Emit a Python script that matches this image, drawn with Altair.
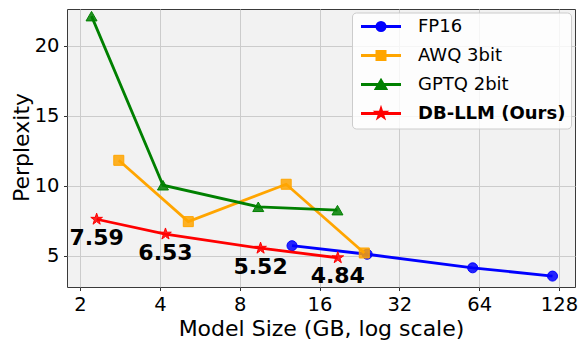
import altair as alt
import pandas as pd

# ---------------- data ----------------
series = ["FP16", "AWQ 3bit", "GPTQ 2bit", "DB-LLM (Ours)"]
colors = ["blue", "orange", "green", "red"]

fp16_size = [12.6, 24.2, 60.5, 121.0]
fp16_ppl = [5.70, 5.09, 4.12, 3.53]
awq_size = [2.80, 5.12, 11.98, 23.6]
awq_ppl = [11.80, 7.42, 10.09, 5.18]
gptq_size = [2.21, 4.11, 9.40, 18.7]
gptq_ppl = [22.10, 10.02, 8.48, 8.24]
dbllm_size = [2.31, 4.20, 9.59, 18.75]
dbllm_ppl = [7.59, 6.53, 5.52, 4.84]
dbllm_labels = ["7.59", "6.53", "5.52", "4.84"]

x_ticks = [2, 4, 8, 16, 32, 64, 128]
y_ticks = [5, 10, 15, 20]

sizes = [fp16_size, awq_size, gptq_size, dbllm_size]
ppls = [fp16_ppl, awq_ppl, gptq_ppl, dbllm_ppl]

rows = []
for s, xs, ys in zip(series, sizes, ppls):
    for xv, yv in zip(xs, ys):
        rows.append({"series": s, "size": xv, "ppl": yv})
df = pd.DataFrame(rows)
lab_df = pd.DataFrame({"size": dbllm_size, "ppl": dbllm_ppl, "label": dbllm_labels})

# ---------------- styles ----------------
STAR = ("M0,-1L0.2245,-0.309L0.9511,-0.309L0.3633,0.118L0.5878,0.809L0,0.382"
        "L-0.5878,0.809L-0.3633,0.118L-0.9511,-0.309L-0.2245,-0.309Z")
plot_shapes = ["circle", "square", "triangle-up", STAR]
plot_sizes = [100, 100, 121, 150]

LINE = "M-4,0H4"
leg_paths = [
    LINE + "M0.82,0A0.82,0.82,0,1,1,-0.82,0A0.82,0.82,0,1,1,0.82,0Z",
    LINE + "M-0.82,-0.82H0.82V0.82H-0.82Z",
    LINE + "M0,-0.8L0.95,0.8L-0.95,0.8Z",
    LINE + "M0,-0.85L0.191,-0.263L0.808,-0.263L0.309,0.1L0.5,0.688L0,0.325"
           "L-0.5,0.688L-0.309,0.1L-0.808,-0.263L-0.191,-0.263Z",
]


def cond_expr(values):
    expr = "'" + values[-1] + "'"
    for s, v in reversed(list(zip(series[:-1], values[:-1]))):
        expr = "datum.value === '" + s + "' ? '" + v + "' : " + expr
    return expr


shape_expr = cond_expr(leg_paths)
color_expr = cond_expr(colors)

legend = alt.Legend(
    title=None,
    orient="none",
    legendX=285,
    legendY=3.5,
    symbolType={"expr": shape_expr},
    symbolFillColor={"expr": color_expr},
    symbolStrokeColor={"expr": color_expr},
    symbolStrokeWidth=2.8,
    symbolOpacity=1,
    symbolSize=100,
    symbolOffset=15,
    labelOffset=28,
    labelFontSize=18,
    labelFont="DejaVu Sans",
    labelColor="black",
    labelFontWeight={"expr": "datum.value === 'DB-LLM (Ours)' ? 'bold' : 'normal'"},
    labelLimit=400,
    padding=5,
    rowPadding=9,
    fillColor="rgba(255,255,255,0.8)",
    strokeColor="#cccccc",
    cornerRadius=4,
)

x_enc = alt.X(
    "size:Q",
    scale=alt.Scale(type="log", domain=[1.786, 147.1], nice=False),
    axis=alt.Axis(
        values=x_ticks,
        format="d",
        title="Model Size (GB, log scale)",
        titleBaseline="alphabetic",
        titleY=48.5,
        labelFlush=False,
        labelOverlap=False,
    ),
)
y_enc = alt.Y(
    "ppl:Q",
    scale=alt.Scale(domain=[2.75, 22.61], nice=False, zero=False),
    axis=alt.Axis(
        values=y_ticks,
        title="Perplexity",
        titleAngle=270,
        titleBaseline="alphabetic",
        titleAlign="center",
        titleX=-38.5,
        titleY=138,
        labelFlush=False,
    ),
)
color_enc = alt.Color("series:N", scale=alt.Scale(domain=series, range=colors), legend=legend)

base = alt.Chart(df)
layers = []
for i, s in enumerate(series):
    sub = base.transform_filter(alt.datum.series == s)
    layers.append(
        sub.mark_line(strokeWidth=2.8).encode(x=x_enc, y=y_enc, color=color_enc)
    )
    layers.append(
        sub.mark_point(
            shape=plot_shapes[i],
            size=plot_sizes[i],
            filled=True,
            fillOpacity=0.85,
            strokeWidth=1,
            stroke=colors[i],
            opacity=1,
        ).encode(x=x_enc, y=y_enc, color=color_enc)
    )

labels = alt.Chart(lab_df).mark_text(
    font="DejaVu Sans",
    fontSize=22,
    fontWeight="bold",
    color="black",
    align="center",
    baseline="alphabetic",
    dy=25.5,
).encode(x=x_enc, y=y_enc, text="label:N")

chart = (
    alt.layer(*layers, labels)
    .properties(
        width=508,
        height=278,
        padding={"left": 59, "top": 1, "right": 3, "bottom": 53},
        autosize="none",
    )
    .configure(font="DejaVu Sans")
    .configure_view(fill="#f2f2f2", stroke="#3a3a3a", strokeWidth=1)
    .configure_axis(
        grid=True,
        gridColor="#cccccc",
        gridWidth=1,
        domain=False,
        tickColor="#333333",
        tickSize=3.5,
        tickWidth=1,
        labelPadding=4.5,
        labelFontSize=19.5,
        labelColor="black",
        labelFont="DejaVu Sans",
        titleFont="DejaVu Sans",
        titleFontSize=22,
        titleFontWeight="normal",
        titleColor="black",
    )
)

chart.save("out.html", embed_options={"renderer": "svg", "actions": False})
